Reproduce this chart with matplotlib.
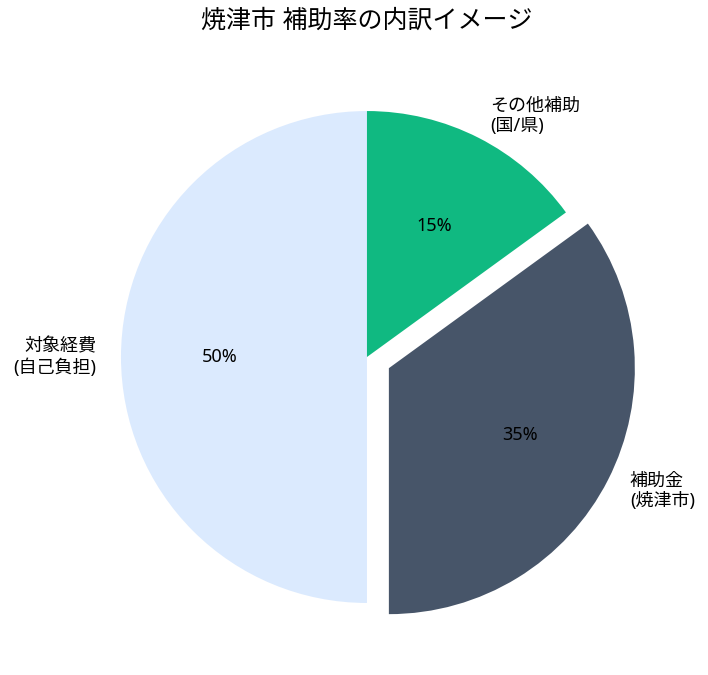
import matplotlib
matplotlib.use("Agg")
import matplotlib.pyplot as plt

plt.rcParams['font.family'] = ['Noto Sans', 'Noto Sans CJK JP', 'DejaVu Sans']

labels = ["対象経費\n(自己負担)", "補助金\n(焼津市)", "その他補助\n(国/県)"]
values = [50, 35, 15]
colors = ["#dbeafe", "#475569", "#10b981"]
explode = [0, 0.1, 0]

fig = plt.figure(figsize=(7.08, 6.75), dpi=100)
ax = fig.add_axes([0.084, 0.0156, 0.8686, 0.911])
wedges, texts, autotexts = ax.pie(values, labels=labels, colors=colors, explode=explode,
                                  startangle=90, autopct='%1.0f%%')
for t in texts:
    t.set_fontsize(13)
for t in autotexts:
    t.set_fontsize(13)
ax.set_aspect('equal')
fig.text(0.518, 0.969, "焼津市 補助率の内訳イメージ", ha='center', va='center', fontsize=18)
fig.savefig("out.png", dpi=100)
